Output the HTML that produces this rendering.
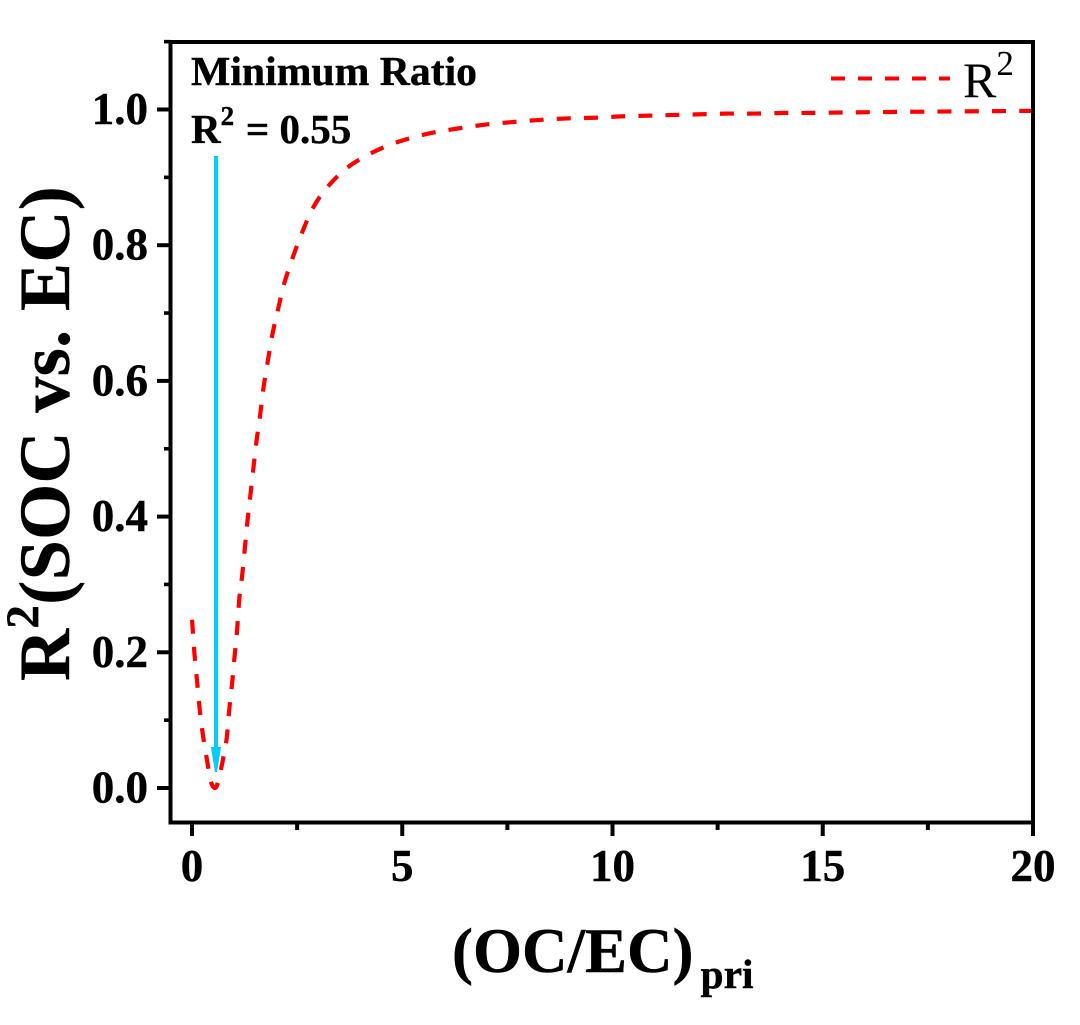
<!DOCTYPE html>
<html>
<head>
<meta charset="utf-8">
<style>
html,body{margin:0;padding:0;background:#fff;}
svg{display:block;}
text{font-family:"Liberation Serif",serif;fill:#000;}
.b{font-weight:bold;stroke:#000;stroke-width:0.4px;}
</style>
</head>
<body>
<svg id="chart" xmlns="http://www.w3.org/2000/svg" width="1080" height="1025" viewBox="0 0 1080 1025">
  <rect x="0" y="0" width="1080" height="1025" fill="#fff"/>
  <g id="marks"></g>
  <g id="axes"></g>
  <text class="b" x="191" y="85" font-size="41.7">Minimum Ratio</text>
  <text class="b" x="191" y="143" font-size="41"><tspan>R</tspan><tspan dy="-18" font-size="27">2</tspan><tspan dx="1.5" dy="18"> = 0.55</tspan></text>
  <line x1="831" y1="78.5" x2="950" y2="78.5" stroke="#ff0000" stroke-width="4" stroke-dasharray="14 13"/>
  <text x="963" y="97" font-size="50"><tspan>R</tspan><tspan dy="-22" font-size="35">2</tspan></text>
  <text class="b" x="452" y="972" font-size="63"><tspan>(OC/EC)</tspan><tspan dx="7" dy="16" font-size="41.5">pri</tspan></text>
  <text class="b" transform="translate(69,681) rotate(-90)" x="0" y="0" font-size="72" letter-spacing="0.4"><tspan>R</tspan><tspan dy="-31" font-size="47">2</tspan><tspan dy="31">(SOC vs. EC)</tspan></text>
</svg>
<script>
var xData = [0,0.036,0.06,0.12,0.18,0.26,0.36,0.45,0.55,0.62,0.71,0.82,0.88,0.95,1.01,1.07,1.125,1.189,1.253,1.315,1.386,1.458,1.529,1.617,1.696,1.8,1.91,2.052,2.195,2.402,2.64,2.878,3.21,3.686,4.209,4.709,5.208,5.738,6.319,7.008,7.722,8.354,8.989,9.639,10.27,10.89,11.49,12.12,12.77,13.41,14.1,14.75,16.84,20];
var r2Data = [0.248,0.218,0.197,0.158,0.118,0.078,0.04,0.009,0,0.009,0.034,0.071,0.112,0.152,0.192,0.231,0.279,0.311,0.351,0.391,0.43,0.47,0.509,0.548,0.588,0.628,0.668,0.707,0.744,0.783,0.822,0.855,0.885,0.914,0.934,0.948,0.958,0.966,0.972,0.978,0.982,0.985,0.987,0.988,0.99,0.991,0.992,0.993,0.994,0.994,0.995,0.995,0.9965,0.998];
var xMajorTicks = [0,5,10,15,20];
var xMinorTicks = [2.5,7.5,12.5,17.5];
var yMajorTicks = [0,0.2,0.4,0.6,0.8,1.0];
var yMinorTicks = [0.1,0.3,0.5,0.7,0.9,1.1];
var arrowXValue = [0.57];
var arrowYRange = [0.9315,0.0236];

var NS = 'http://www.w3.org/2000/svg';
function sx(v){ return 192 + v * 42.05; }
function sy(v){ return 788 - v * 678.5; }
function mk(tag, parent, attrs){
  var el = document.createElementNS(NS, tag);
  for (var k in attrs) el.setAttribute(k, attrs[k]);
  parent.appendChild(el);
  return el;
}
var axes = document.getElementById('axes');
var marks = document.getElementById('marks');
var LEFT = 170.5, RIGHT = 1033, TOP = 42, BOTTOM = 822.5;

// series, smoothed between the data points
var pts = xData.map(function(x, i){ return [sx(x), sy(r2Data[i])]; });
var d = 'M' + pts[0][0].toFixed(2) + ' ' + pts[0][1].toFixed(2);
for (var i = 0; i < pts.length - 1; i++) {
  var p0 = pts[Math.max(i - 1, 0)], p1 = pts[i], p2 = pts[i + 1], p3 = pts[Math.min(i + 2, pts.length - 1)];
  d += 'C' + (p1[0] + (p2[0] - p0[0]) / 6).toFixed(2) + ' ' + (p1[1] + (p2[1] - p0[1]) / 6).toFixed(2) + ' '
           + (p2[0] - (p3[0] - p1[0]) / 6).toFixed(2) + ' ' + (p2[1] - (p3[1] - p1[1]) / 6).toFixed(2) + ' '
           + p2[0].toFixed(2) + ' ' + p2[1].toFixed(2);
}
var curve = mk('path', marks, {d: d, fill: 'none', stroke: '#ff0000', 'stroke-width': 4.2, 'stroke-linejoin': 'round'});


// fit the dash period so a dash sits at both ends of the curve
var curveLength = curve.getTotalLength();
var dashCount = Math.round((curveLength - 14) / 27);
curve.setAttribute('stroke-dasharray', '14 ' + ((curveLength - 14) / dashCount - 14).toFixed(3));

// arrow
var ax = sx(arrowXValue[0]);
var tipY = sy(arrowYRange[1]);
var shaft = mk('line', marks, {x1: ax, y1: sy(arrowYRange[0]), x2: ax, y2: tipY - 20, stroke: '#00ccff', 'stroke-width': 4});


var head = mk('polygon', marks, {points: (ax-5)+','+(tipY-25)+' '+(ax+5)+','+(tipY-25)+' '+(ax+3)+','+(tipY-12)+' '+(ax+1)+','+tipY+' '+(ax-1)+','+tipY+' '+(ax-3)+','+(tipY-12), fill: '#00ccff'});



// frame
var frame = mk('rect', axes, {x: LEFT, y: TOP, width: RIGHT - LEFT, height: BOTTOM - TOP, fill: 'none', stroke: '#000', 'stroke-width': 4});



// x ticks
xMajorTicks.forEach(function(v){
  var t = mk('line', axes, {x1: sx(v), x2: sx(v), y1: BOTTOM, y2: 836, stroke: '#000', 'stroke-width': 4});
  
  
  var l = mk('text', axes, {x: sx(v), y: 881, 'font-size': 45, 'text-anchor': 'middle', 'class': 'b'});
  l.textContent = String(v);
  
  
});
xMinorTicks.forEach(function(v){
  var t = mk('line', axes, {x1: sx(v), x2: sx(v), y1: BOTTOM, y2: 830, stroke: '#000', 'stroke-width': 4});
  
  
});
// y ticks
yMajorTicks.forEach(function(v){
  var t = mk('line', axes, {x1: LEFT, x2: 157, y1: sy(v), y2: sy(v), stroke: '#000', 'stroke-width': 4});
  
  
  var l = mk('text', axes, {x: 148, y: sy(v) + 14.5, 'font-size': 45, 'text-anchor': 'end', 'class': 'b'});
  l.textContent = v.toFixed(1);
  
  
});
yMinorTicks.forEach(function(v){
  var t = mk('line', axes, {x1: LEFT, x2: 164, y1: sy(v), y2: sy(v), stroke: '#000', 'stroke-width': 3.6});
  
  
});
</script>
</body>
</html>
